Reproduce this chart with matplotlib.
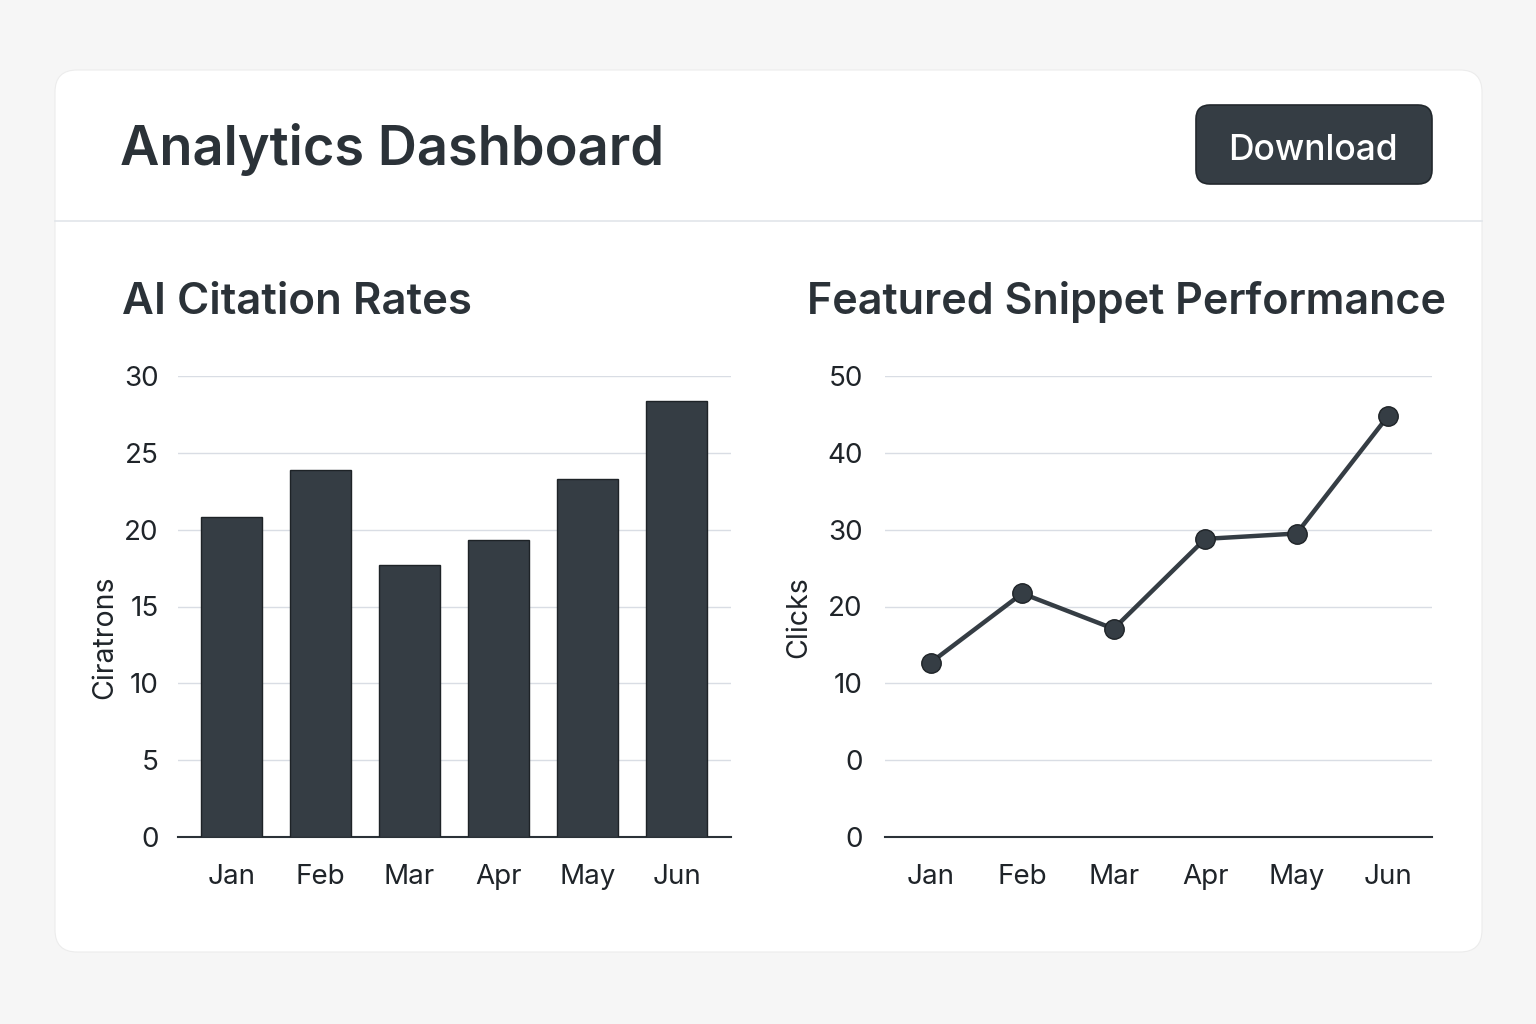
import matplotlib
matplotlib.use("Agg")
import matplotlib.pyplot as plt
from matplotlib.patches import FancyBboxPatch

plt.rcParams['font.family'] = ['Inter', 'DejaVu Sans']

# ---- data ----
months = ["Jan", "Feb", "Mar", "Apr", "May", "Jun"]
citations = [20.8, 23.9, 17.7, 19.3, 23.3, 28.4]
cit_ticks = [0, 5, 10, 15, 20, 25, 30]
clicks = [12.7, 21.7, 17.1, 28.8, 29.5, 44.8]
click_ticks = [-10, 0, 10, 20, 30, 40, 50]
click_tick_labels = ["0", "0", "10", "20", "30", "40", "50"]

DARK = "#353d44"
TEXT = "#2b3238"
GRID = "#d9dde4"

W, H = 1536, 1024
fig = plt.figure(figsize=(W / 100, H / 100), dpi=100)
fig.patch.set_facecolor("#f6f6f6")

# background / card layer in pixel coordinates
bg = fig.add_axes([0, 0, 1, 1])
bg.set_xlim(0, W)
bg.set_ylim(H, 0)
bg.axis("off")
bg.add_patch(FancyBboxPatch((55, 70), 1427, 882,
                            boxstyle="round,pad=0,rounding_size=22",
                            fc="white", ec="#ececec", lw=0.8))
bg.plot([55, 1482], [221, 221], color="#e1e5ea", lw=1.2)
bg.text(120, 150, "Analytics Dashboard", fontsize=39, fontweight="semibold",
        color=TEXT, va="center", ha="left")
bg.add_patch(FancyBboxPatch((1196, 105), 236, 79,
                            boxstyle="round,pad=0,rounding_size=14",
                            fc=DARK, ec="#22282d", lw=1.2))
bg.text(1313, 150, "Download", fontsize=25.5, color="white",
        va="center", ha="center", fontweight="medium")
bg.text(122, 302, "AI Citation Rates", fontsize=31.5, fontweight="semibold",
        color=TEXT, va="center", ha="left")
bg.text(807, 302, "Featured Snippet Performance", fontsize=31,
        fontweight="semibold", color=TEXT, va="center", ha="left")


def px_axes(left, top, right, bottom):
    return fig.add_axes([left / W, 1 - bottom / H, (right - left) / W, (bottom - top) / H])


def style(ax):
    ax.set_facecolor("none")
    for s in ["top", "right", "left"]:
        ax.spines[s].set_visible(False)
    ax.spines["bottom"].set_color("#2b3238")
    ax.spines["bottom"].set_linewidth(1.5)
    ax.grid(axis="y", color=GRID, lw=1.0)
    ax.set_axisbelow(True)
    ax.tick_params(axis="both", length=0, labelsize=20, colors="#1f2429")
    ax.tick_params(axis="y", pad=14)
    ax.tick_params(axis="x", pad=19.5)


# ---- left: bar chart ----
ax1 = px_axes(178, 376, 731, 837)
x = list(range(len(months)))
ax1.bar(x, citations, width=0.68, color=DARK, edgecolor="#1e2327", linewidth=1.0, zorder=3)
ax1.set_xlim(-0.6, 5.61)
ax1.set_ylim(0, 30)
ax1.set_yticks(cit_ticks)
ax1.set_xticks(x)
ax1.set_xticklabels(months)
style(ax1)
ax1.set_ylabel("Ciratrons", fontsize=20.5, color="#1f2429")
ax1.yaxis.set_label_coords(-0.108, 0.434)

# ---- right: line chart ----
ax2 = px_axes(885, 376, 1432, 837)
ax2.plot(x, clicks, color=DARK, lw=3.2, marker="o", markersize=14,
         markerfacecolor=DARK, markeredgecolor="#1e2327", markeredgewidth=1.0, zorder=3)
ax2.set_xlim(-0.5, 5.48)
ax2.set_ylim(-10, 50)
ax2.set_yticks(click_ticks)
ax2.set_yticklabels(click_tick_labels)
ax2.set_xticks(x)
ax2.set_xticklabels(months)
style(ax2)
ax2.tick_params(axis="y", pad=16)
ax2.set_ylabel("Clicks", fontsize=20.5, color="#1f2429")
ax2.yaxis.set_label_coords(-0.133, 0.477)

fig.savefig("out.png", dpi=100, facecolor=fig.get_facecolor())
